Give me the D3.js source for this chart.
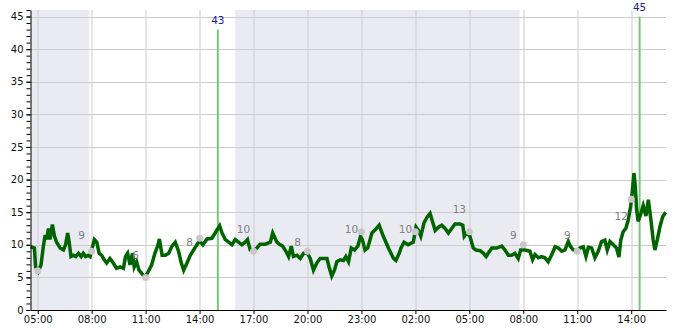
<!DOCTYPE html>
<html>
<head>
<meta charset="utf-8">
<script src="https://cdn.jsdelivr.net/npm/d3@7"></script>
<style>
  body { margin: 0; background: #fff; }
  svg text { font-family: "DejaVu Sans", sans-serif; }
</style>
</head>
<body>
<svg id="chart" width="685" height="330"></svg>
<script>
// times are HH:MM, a time earlier than the previous one means the next day
const domainStart = "04:36";
const domainEnd = "15:56"; // next day
const shadeTimes = ["04:36", "07:52", "15:59", "07:48"];

const lineTimes = [
  "04:37", "04:49", "04:53", "05:02", "05:11", "05:19", "05:25", "05:30", "05:36", "05:41",
  "05:49", "05:56", "06:03", "06:15", "06:26", "06:33", "06:40", "06:45", "06:51", "06:59",
  "07:07", "07:16", "07:25", "07:32", "07:40", "07:49", "07:55", "08:02", "08:09", "08:17",
  "08:25", "08:33", "08:42", "08:50", "09:01", "09:12", "09:23", "09:35", "09:46", "09:53",
  "10:00", "10:08", "10:16", "10:22", "10:30", "10:38", "10:47", "10:58", "11:09", "11:20",
  "11:31", "11:40", "11:46", "11:55", "12:06", "12:17", "12:28", "12:39", "12:50", "12:59",
  "13:07", "13:18", "13:29", "13:40", "13:51", "14:00", "14:11", "14:25", "14:41", "14:52",
  "15:07", "15:15", "15:26", "15:37", "15:48", "15:59", "16:10", "16:21", "16:32", "16:40",
  "16:49", "17:00", "17:11", "17:22", "17:39", "17:56", "18:04", "18:18", "18:29", "18:37",
  "18:48", "18:57", "19:06", "19:13", "19:25", "19:36", "19:47", "20:00", "20:09", "20:20",
  "20:31", "20:42", "21:05", "21:12", "21:21", "21:30", "21:38", "21:49", "22:00", "22:08",
  "22:17", "22:26", "22:37", "22:48", "22:57", "23:03", "23:12", "23:21", "23:35", "23:46",
  "23:59", "00:13", "00:30", "00:47", "00:55", "01:06", "01:12", "01:22", "01:36", "01:53",
  "02:02", "02:10", "02:18", "02:29", "02:40", "02:49", "02:58", "03:06", "03:17", "03:28",
  "03:39", "03:50", "04:01", "04:12", "04:29", "04:38", "04:43", "04:51", "05:02", "05:13",
  "05:22", "05:36", "05:47", "05:56", "06:03", "06:15", "06:31", "06:48", "06:59", "07:10",
  "07:21", "07:32", "07:43", "07:51", "08:06", "08:22", "08:31", "08:39", "08:50", "09:01",
  "09:12", "09:23", "09:35", "09:46", "09:57", "10:08", "10:19", "10:30", "10:38", "10:47",
  "11:00", "11:09", "11:20", "11:29", "11:37", "11:48", "11:59", "12:10", "12:21", "12:32",
  "12:40", "12:49", "13:00", "13:11", "13:19", "13:25", "13:33", "13:42", "13:50", "13:58",
  "14:03", "14:09", "14:13", "14:18", "14:23", "14:31", "14:40", "14:49", "14:57", "15:05",
  "15:13", "15:19", "15:27", "15:36", "15:45", "15:55"
];
const lineValues = [
  9.7, 9.5, 6.6, 5.9, 6.9, 9.8, 11.5, 10.8, 12.5, 10.8,
  13.1, 11.3, 10.4, 9.5, 9.2, 10, 11.8, 10.4, 8.2, 8.4,
  8.2, 8.7, 8.2, 8.7, 8.2, 8.4, 8.2, 9.5, 10.8, 10.4,
  8.7, 8.4, 7.7, 7.2, 7.9, 7.2, 6.4, 6.6, 6.4, 8.2,
  8.7, 6.9, 8.7, 6.6, 7.4, 6.1, 5.6, 5.0, 5.9, 6.9,
  8.7, 9.8, 10.9, 8.4, 8.4, 8.7, 9.8, 10.4, 9.0, 7.2,
  6.1, 7.2, 8.4, 9.2, 10, 10.6, 10, 10.9, 11, 11.8,
  12.9, 11.8, 10.8, 10.4, 10, 10.8, 10.4, 10, 10.4, 10.8,
  9.2, 9.0, 9.5, 10.1, 10.1, 10.4, 11.8, 10.4, 10, 9.8,
  9.0, 8.2, 9.8, 8.2, 8.4, 7.9, 8.7, 8.7, 7.9, 6.1,
  7.2, 7.9, 7.9, 6.6, 5.2, 6.1, 7.4, 7.7, 7.6, 8.2,
  7.4, 9.5, 9.2, 9.8, 11.3, 10.8, 9.2, 9.5, 11.8, 12.3,
  13, 11.3, 9.5, 7.9, 7.6, 8.7, 9.5, 10.4, 10, 10.4,
  12.7, 12.2, 11.3, 13.4, 14.3, 14.8, 13.4, 12.2, 12.7, 13,
  12.5, 11.8, 12.5, 13.2, 13.2, 13, 11.3, 11.8, 11.3, 9.5,
  9.2, 9.1, 8.7, 8.2, 8.7, 9.5, 9.5, 9.8, 9.2, 8.4,
  8.4, 8.7, 7.9, 9.2, 9.2, 9.0, 7.7, 8.5, 8.0, 8.2,
  8.0, 7.4, 8.5, 9.7, 9.5, 9.0, 9.2, 10.5, 9.7, 9.2,
  9.1, 9.5, 9.7, 8.2, 9.6, 9.5, 8.0, 9.0, 10.5, 10.7,
  9.2, 10.5, 10, 9.5, 8.1, 10.7, 12, 12.5, 13.8, 15.9,
  17.9, 21, 19.3, 15.4, 13.6, 14.6, 16, 14.4, 16.9, 14.1,
  10.8, 9.2, 10.8, 12.8, 14.3, 15
];

const dotTimes = ["05:00", "08:00", "11:00", "14:00", "17:00", "20:00", "23:00", "02:00", "05:00", "08:00", "11:00", "14:00"];
const dotValues = [6, 9, 5, 11, 9, 9, 12, 12, 12, 10, 9, 17];

const noteTimes = ["08:00", "11:00", "14:00", "17:00", "20:00", "23:00", "02:00", "05:00", "08:00", "11:00", "14:00"];
const noteValues = [9, 6, 8, 10, 8, 10, 10, 13, 9, 9, 12];

const peakTimes = ["15:01", "14:28"];
const peakValues = [43, 45];

let makeDate = function(s, day) {
  let parts = s.split(":").map(Number);
  return new Date(2024, 2, 1 + day, parts[0], parts[1]);
};

// turn a list of HH:MM strings into dates, rolling over to the next day
let toDates = function(list) {
  let day = 0, prev = -1;
  return list.map(function(s) {
    let parts = s.split(":").map(Number);
    let mins = parts[0] * 60 + parts[1];
    if (mins < prev) day++;
    prev = mins;
    return makeDate(s, day);
  });
};

let svg = d3.select("#chart"),
  margin = {top: 10, right: 19, bottom: 20, left: 30.5},
  width = +svg.attr("width") - margin.left - margin.right,
  height = +svg.attr("height") - margin.top - margin.bottom,
  g = svg.append("g").attr("transform", "translate(" + margin.left + "," + margin.top + ")");

let x = d3.scaleTime()
  .domain([makeDate(domainStart, 0), makeDate(domainEnd, 1)])
  .range([0, width]);

let y = d3.scaleLinear()
  .domain([0, 46])
  .range([height, 0]);

// night shading
let shade = toDates(shadeTimes);
for (let i = 0; i < shade.length; i += 2) {
  g.append("rect")
    .attr("x", x(shade[i]))
    .attr("y", 0)
    .attr("width", x(shade[i + 1]) - x(shade[i]))
    .attr("height", height)
    .attr("fill", "#eaeaf2");
}

let xTicks = d3.timeHour.range(x.domain()[0], x.domain()[1]).filter(d => d.getHours() % 3 === 2);

// grid
g.append("g")
  .selectAll("line")
  .data(d3.range(5, 46, 5))
  .enter().append("line")
  .attr("x1", 0).attr("x2", width)
  .attr("y1", d => Math.round(y(d)) + 0.5).attr("y2", d => Math.round(y(d)) + 0.5)
  .attr("stroke", "#cccccc");

g.append("g")
  .selectAll("line")
  .data(xTicks)
  .enter().append("line")
  .attr("x1", d => Math.round(x(d)) + 0.5).attr("x2", d => Math.round(x(d)) + 0.5)
  .attr("y1", 0).attr("y2", height)
  .attr("stroke", "#cccccc");

// peak markers
let peaks = toDates(peakTimes).map((t, i) => ({t: t, v: peakValues[i]}));
g.selectAll(".peak")
  .data(peaks)
  .enter().append("line")
  .attr("class", "peak")
  .attr("x1", d => x(d.t)).attr("x2", d => x(d.t))
  .attr("y1", height).attr("y2", d => y(d.v))
  .attr("stroke", "#77c877")
  .attr("stroke-width", 2);

g.selectAll(".peak-label")
  .data(peaks)
  .enter().append("text")
  .attr("class", "peak-label")
  .attr("x", d => x(d.t))
  .attr("y", d => y(d.v) - 9)
  .attr("dy", "0.35em")
  .attr("text-anchor", "middle")
  .attr("font-size", 10.5)
  .attr("fill", "#1c1c96")
  .text(d => d.v);

// main line
let series = toDates(lineTimes).map((t, i) => ({t: t, v: lineValues[i]}));
g.append("path")
  .datum(series)
  .attr("fill", "none")
  .attr("stroke", "#006400")
  .attr("stroke-width", 3.5)
  .attr("stroke-linejoin", "miter")
  .attr("d", d3.line()
    .x(d => x(d.t))
    .y(d => y(d.v)));

// grey points
let dots = toDates(dotTimes).map((t, i) => ({t: t, v: dotValues[i]}));
g.selectAll(".dot")
  .data(dots)
  .enter().append("circle")
  .attr("class", "dot")
  .attr("cx", d => x(d.t))
  .attr("cy", d => y(d.v))
  .attr("r", 3.5)
  .attr("fill", "#c8c8c8");

let notes = toDates(noteTimes).map((t, i) => ({t: t, v: noteValues[i]}));
g.selectAll(".note")
  .data(notes)
  .enter().append("text")
  .attr("class", "note")
  .attr("x", d => x(d.t) - 10)
  .attr("y", d => y(d.v) - 15.7)
  .attr("dy", "0.35em")
  .attr("text-anchor", "middle")
  .attr("font-size", 10.5)
  .attr("fill", "#808080")
  .text(d => d.v);

// axes
let xAxis = g.append("g")
  .attr("transform", "translate(0," + height + ")")
  .call(d3.axisBottom(x).tickValues(xTicks).tickFormat(d3.timeFormat("%H:%M")).tickSize(4).tickSizeOuter(0));
xAxis.selectAll("text").attr("font-size", 10).attr("fill", "#111").attr("dy", "0.6em");
xAxis.select(".domain").attr("stroke", "#000");

g.append("g")
  .call(d3.axisLeft(y).tickValues(d3.range(0, 47, 1)).tickSize(4).tickFormat(""))
  .call(a => a.select(".domain").remove());

let yAxis = g.append("g")
  .call(d3.axisLeft(y).tickValues(d3.range(0, 46, 5)).tickSize(4).tickSizeOuter(0));
yAxis.selectAll("text").attr("font-size", 10).attr("fill", "#111");
yAxis.select(".domain").attr("stroke", "#000");
</script>
</body>
</html>
